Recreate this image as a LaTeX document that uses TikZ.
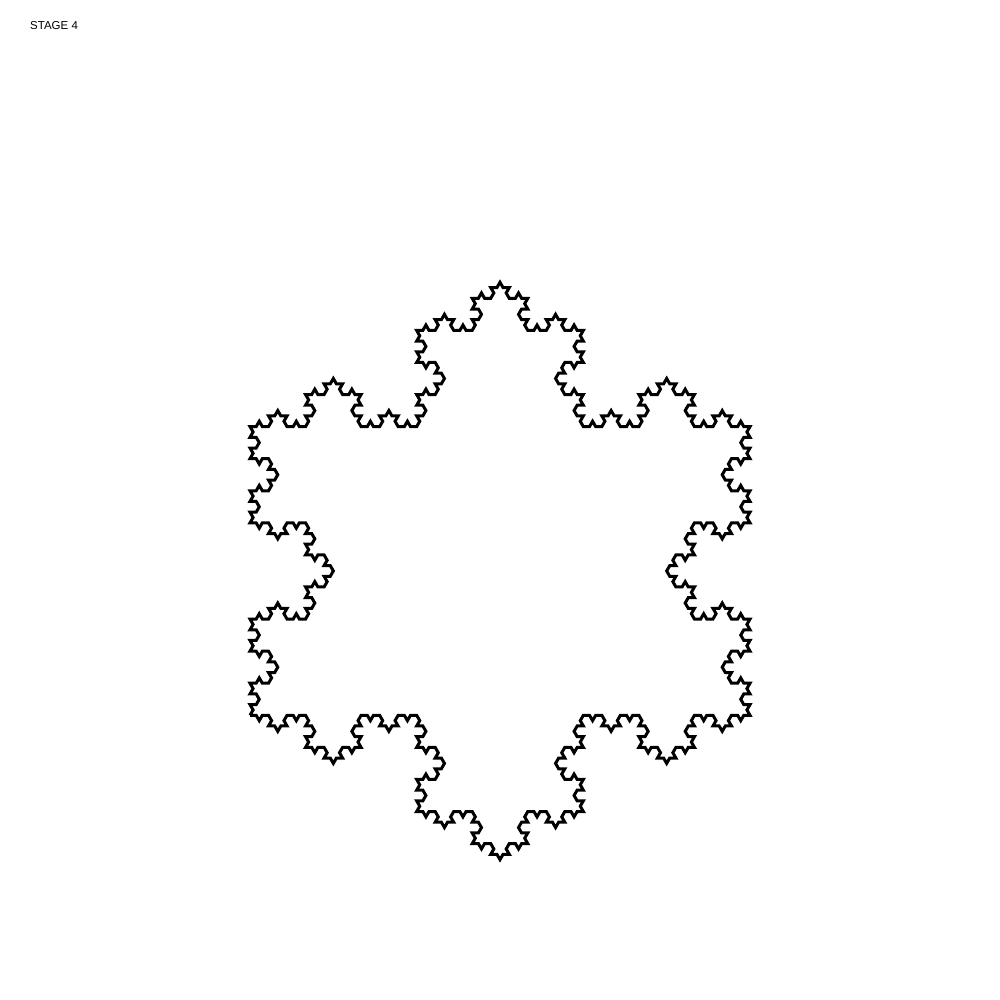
\documentclass[tikz,border=0pt]{standalone}
\usepackage{fontspec}
\setmainfont{Liberation Sans}
\usetikzlibrary{lindenmayersystems}
\pgfdeclarelindenmayersystem{KochFlake}{
  \rule{F -> F-F++F-F}
}
\begin{document}
\begin{tikzpicture}[x=1pt,y=1pt,
  flake/.style={line width=3pt,line join=miter,draw=black},
  label/.style={anchor=base west,inner sep=0pt,font=\fontsize{11.5}{13}\selectfont}]
\useasboundingbox (0,0) rectangle (1000,1000);
\node[label] (title) at (30,970) {STAGE 4};
\begin{scope}[shift={(250,284.7)}]
\draw[flake] [l-system={KochFlake, axiom=F++F++F, order=4, angle=60, step=6.1728pt}] lindenmayer system;
\end{scope}
\end{tikzpicture}
\end{document}
